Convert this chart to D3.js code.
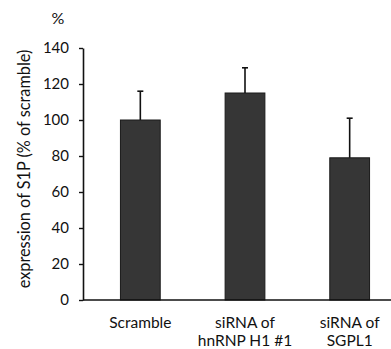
<!DOCTYPE html>
<html>
<head>
<meta charset="utf-8">
<script src="https://cdn.jsdelivr.net/npm/d3@7"></script>
<style>
  body { margin: 0; background: #fff; }
  text { font-family: Lato, "Liberation Sans", sans-serif; fill: #111; }
</style>
</head>
<body>
<script>
// chart values
var categories = ["Scramble", "siRNA of\nhnRNP H1 #1", "siRNA of\nSGPL1"];
var means = [100, 115, 79];
var errors = [16, 14, 22];
var yTicks = [0, 20, 40, 60, 80, 100, 120, 140];

var w = 391, h = 349;

var svg = d3.select("body").append("svg")
    .attr("width", w)
    .attr("height", h);

var y = d3.scaleLinear().domain([0, 140]).range([300, 48]);
var x = d3.scaleBand().domain(categories).range([88, 402])
    .paddingInner(0.62).paddingOuter(0.31);

// bars
svg.selectAll("rect.bar")
    .data(categories)
  .enter().append("rect")
    .attr("class", "bar")
    .attr("x", function(d) { return x(d); })
    .attr("width", x.bandwidth())
    .attr("y", function(d, i) { return y(means[i]); })
    .attr("height", function(d, i) { return y(0) - y(means[i]); })
    .style("fill", "#363636")
    .style("stroke", "#1a1a1a")
    .style("stroke-width", 1);

// error bars (upper only)
var eb = svg.selectAll("g.err")
    .data(categories)
  .enter().append("g")
    .attr("class", "err")
    .style("stroke", "#111")
    .style("stroke-width", 1.6);

eb.append("line")
    .attr("x1", function(d) { return x(d) + x.bandwidth() / 2; })
    .attr("x2", function(d) { return x(d) + x.bandwidth() / 2; })
    .attr("y1", function(d, i) { return y(means[i]); })
    .attr("y2", function(d, i) { return y(means[i] + errors[i]); });

eb.append("line")
    .attr("x1", function(d) { return x(d) + x.bandwidth() / 2 - 3; })
    .attr("x2", function(d) { return x(d) + x.bandwidth() / 2 + 3; })
    .attr("y1", function(d, i) { return y(means[i] + errors[i]); })
    .attr("y2", function(d, i) { return y(means[i] + errors[i]); });

// y axis
var yAxis = svg.append("g")
    .attr("transform", "translate(83,0)")
    .call(d3.axisLeft(y).tickValues(yTicks).tickSize(4).tickSizeOuter(0));
yAxis.select(".domain").style("stroke", "#111").style("stroke-width", 1.6);
yAxis.selectAll(".tick line").style("stroke", "#111").style("stroke-width", 1.4);
yAxis.selectAll(".tick text")
    .attr("x", -14)
    .style("font-size", "15px")
    .style("fill", "#111")
    .style("font-family", "Lato, 'Liberation Sans', sans-serif");

// x axis baseline
svg.append("line")
    .attr("x1", 83).attr("x2", 391)
    .attr("y1", y(0)).attr("y2", y(0))
    .style("stroke", "#111")
    .style("stroke-width", 1.6);

// category labels, one text per line
categories.forEach(function(d) {
  d.split("\n").forEach(function(line, k) {
    svg.append("text")
        .attr("class", "cat")
        .attr("text-anchor", "middle")
        .attr("x", x(d) + x.bandwidth() / 2)
        .attr("y", 328 + k * 18)
        .style("font-size", "15.5px")
        .text(line);
  });
});

// % label
svg.append("text")
    .attr("x", 58).attr("y", 24)
    .attr("text-anchor", "middle")
    .style("font-size", "16px")
    .text("%");

// y axis title
svg.append("text")
    .attr("transform", "translate(30,169) rotate(-90)")
    .attr("text-anchor", "middle")
    .style("font-size", "16.3px")
    .text("expression of S1P (% of scramble)");
</script>
</body>
</html>
